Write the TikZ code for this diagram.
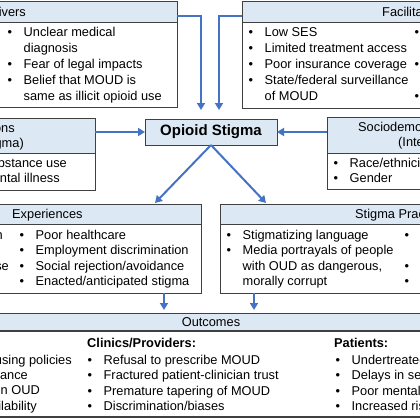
\documentclass[tikz,border=0pt]{standalone}
\usepackage{fontspec}
\setmainfont{Liberation Sans}
\usetikzlibrary{positioning,arrows.meta}
\definecolor{hdrblue}{RGB}{221,232,245}
\definecolor{boxgray}{RGB}{64,64,64}
\definecolor{arrblue}{RGB}{68,114,196}
\tikzset{
  box/.style={rectangle, draw=boxgray, line width=1pt, inner sep=0pt, outer sep=0pt},
  hdr/.style={box, fill=hdrblue},
  txt/.style={inner sep=0pt, font=\fontsize{12.8}{15.5}\selectfont, align=left},
  txtw/.style={txt, font=\fontsize{12.8}{16}\selectfont},
  arr/.style={draw=arrblue, line width=2pt, -{Triangle[length=7pt,width=8pt]}}
}
\newcommand{\blt}{\textbullet}
\newcommand{\items}[1]{\begin{tabular}[t]{@{}l@{\hspace{11.5pt}}l@{}}#1\end{tabular}}

\begin{document}
\begin{tikzpicture}[x=1pt, y=-1pt]
  \useasboundingbox (0,0) rectangle (420,420);
  \clip (0,0) rectangle (420,420);
  % Place boxes
  \node [hdr, anchor=north west, minimum width=377pt, minimum height=21pt] (drvh) at (-200,2) {};
  \node [box, below=0pt of drvh, minimum width=377pt, minimum height=84pt] (drvb) {};
  \node [hdr, anchor=north west, minimum width=378pt, minimum height=21pt] (fach) at (242,2) {};
  \node [box, below=0pt of fach, minimum width=378pt, minimum height=85pt] (facb) {};
  \node [hdr, anchor=north west, minimum width=245pt, minimum height=35pt] (coch) at (-150,118) {};
  \node [box, below=0pt of coch, minimum width=245pt, minimum height=37pt] (cocb) {};
  \node [hdr, anchor=north west, minimum width=280pt, minimum height=36pt] (soch) at (327,117) {};
  \node [box, below=0pt of soch, minimum width=280pt, minimum height=36pt] (socb) {};
  \node [hdr, minimum width=132pt, minimum height=26pt, font=\bfseries\fontsize{15}{18}\selectfont] (ops) at (211,132) {Opioid Stigma};
  \node [hdr, anchor=north west, minimum width=401pt, minimum height=20pt] (exph) at (-200,204) {};
  \node [box, below=0pt of exph, minimum width=401pt, minimum height=69pt] (expb) {};
  \node [hdr, anchor=north west, minimum width=400pt, minimum height=20pt] (prah) at (220,204) {};
  \node [box, below=0pt of prah, minimum width=400pt, minimum height=69pt] (prab) {};
  \node [hdr, anchor=north west, minimum width=520pt, minimum height=18pt] (outh) at (-50,313) {};
  \node [box, below=0pt of outh, minimum width=520pt, minimum height=86pt, line width=1.5pt] (outb) {};

  % Headers
  \node [txt, anchor=base east] (drvt) at (26,17) {Drivers};
  \node [txt, anchor=base west] (fact) at (382,17) {Facilitators};
  \node [txt, anchor=base east] (coct1) at (15,132) {Co-occurring Conditions};
  \node [txt, anchor=base east] (coct2) at (24,147) {(Layered Stigma)};
  \node [txt, anchor=base west] (soct1) at (358,131) {Sociodemographic Factors};
  \node [txt, anchor=base west] (soct2) at (398,146) {(Intersectional Stigma)};
  \node [txt, anchor=base west] (expt) at (12,218) {Experiences};
  \node [txt, anchor=base west] (prat) at (355,218) {Stigma Practices};
  \node [txt, anchor=base] (outt) at (211,326) {Outcomes};

  % Lists
  \node [txtw, anchor=base west] (drvl) at (7.5,37) {\items{\blt & Unclear medical\\ & diagnosis\\ \blt & Fear of legal impacts\\ \blt & Belief that MOUD is\\ & same as illicit opioid use}};
  \node [txtw, anchor=base west] (facl) at (248.5,37) {\items{\blt & Low SES\\ \blt & Limited treatment access\\ \blt & Poor insurance coverage\\ \blt & State/federal surveillance\\ & of MOUD}};
  \node [txtw, anchor=base west] (facr) at (414.5,37) {\items{\blt & \\ & \\ \blt & \\ & \\ \blt & }};
  \node [txt, anchor=base west] (cocl) at (-34,167) {\items{\blt & Substance use\\ \blt & Mental illness}};
  \node [txt, anchor=base west] (socl) at (333.5,167) {\items{\blt & Race/ethnicity\\ \blt & Gender}};
  \node [txt, anchor=base east] (expl1) at (3,239) {Self-isolation};
  \node [txt, anchor=base east] (expl3) at (9,270) {Relapse};
  \node [txt, anchor=base west] (expr) at (19.5,239) {\items{\blt & Poor healthcare\\ \blt & Employment discrimination\\ \blt & Social rejection/avoidance\\ \blt & Enacted/anticipated stigma}};
  \node [txt, anchor=base west] (pral) at (226.5,239) {\items{\blt & Stigmatizing language\\ \blt & Media portrayals of people\\ & with OUD as dangerous,\\ & morally corrupt}};
  \node [txt, anchor=base west] (prar) at (404.5,239) {\items{\blt & \\ & \\ \blt & \\ \blt & }};

  % Outcomes
  \node [txt, anchor=base east] (outl1) at (72,364) {Restrictive housing policies};
  \node [txt, anchor=base east] (outl2) at (28,379) {Lack of insurance};
  \node [txt, anchor=base east] (outl3) at (40,394) {Misinformation on OUD};
  \node [txt, anchor=base east] (outl4) at (37,410) {Limited MOUD availability};
  \node [txt, anchor=base west, font=\bfseries\fontsize{12.8}{15.5}\selectfont] (clit) at (87,347) {Clinics/Providers:};
  \node [txt, anchor=base west] (clil) at (87.5,364) {\items{\blt & Refusal to prescribe MOUD\\ \blt & Fractured patient-clinician trust\\ \blt & Premature tapering of MOUD\\ \blt & Discrimination/biases}};
  \node [txt, anchor=base west, font=\bfseries\fontsize{12.8}{15.5}\selectfont] (patt) at (334,347) {Patients:};
  \node [txt, anchor=base west] (patl) at (335.5,364) {\items{\blt & Undertreated OUD\\ \blt & Delays in seeking care\\ \blt & Poor mental health\\ \blt & Increased risk of overdose}};

  % Draw edges
  \coordinate (drvend) at (201,110);
  \coordinate (facend) at (219,110);
  \coordinate (expin) at (155,203);
  \coordinate (prain) at (266,203);
  \coordinate (outin1) at (164,310);
  \coordinate (outin2) at (254,310);
  \draw [arr] ([yshift=-4pt]drvh.east) -| (drvend);
  \draw [arr] ([yshift=-4pt]fach.west) -| (facend);
  \draw [arr] (coch.east |- ops.west) -- (ops.west);
  \draw [arr] (soch.west |- ops.east) -- (ops.east);
  \draw [arr] (ops.south) -- (expin);
  \draw [arr] (ops.south) -- (prain);
  \draw [arr] (expb.south -| outin1) -- (outin1);
  \draw [arr] (prab.south -| outin2) -- (outin2);
\end{tikzpicture}
\end{document}
